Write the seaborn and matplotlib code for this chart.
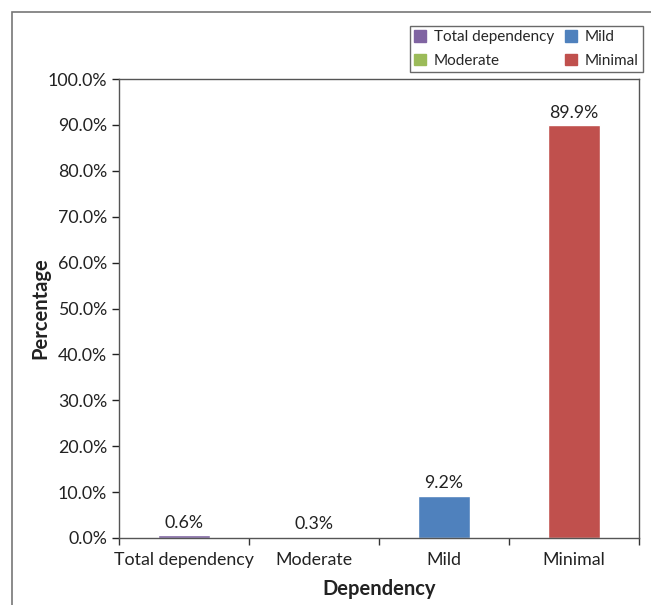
import matplotlib
matplotlib.use('Agg')
import matplotlib.pyplot as plt
import matplotlib.patches as mpatches
from matplotlib.ticker import PercentFormatter
import seaborn as sns
import pandas as pd

# Data
categories = ['Total dependency', 'Moderate', 'Mild', 'Minimal']
percentages = [0.6, 0.3, 9.2, 89.9]
bar_colors = ['#8064A2', '#9BBB59', '#4F81BD', '#C0504D']

df = pd.DataFrame({'Dependency': categories, 'Percentage': percentages})

sns.set_style('white')
plt.rcParams['font.family'] = ['Lato', 'DejaVu Sans']

fig = plt.figure(figsize=(6.51, 6.05), dpi=100)
ax = fig.add_axes([119 / 651, 67 / 605, 520 / 651, 459 / 605])

sns.barplot(data=df, x='Dependency', y='Percentage', hue='Dependency',
            palette=bar_colors, width=0.4, legend=False, saturation=1, ax=ax)

# value labels
for i, v in enumerate(percentages):
    ax.text(i, v + 1.0, f'{v:.1f}%', ha='center', va='bottom', fontsize=12.8, color='#222222')

ax.set_ylim(0, 100)
ax.set_xlim(-0.5, 3.5)
ax.set_yticks(range(0, 101, 10))
ax.yaxis.set_major_formatter(PercentFormatter(decimals=1))
ax.set_xticks(range(len(categories)))
ax.set_xticklabels(categories)
ax.set_xticks([-0.5, 0.5, 1.5, 2.5, 3.5], minor=True)
ax.tick_params(axis='x', which='major', length=0, labelsize=12.8, pad=10, colors='#222222')
ax.tick_params(axis='x', which='minor', length=5, width=1, direction='out', color='#333333', bottom=True)
ax.tick_params(axis='y', length=5, width=1, direction='out', labelsize=12.8, colors='#222222', left=True)

ax.set_xlabel('Dependency', fontsize=14.5, fontweight='bold', color='#222222', labelpad=8)
ax.set_ylabel('Percentage', fontsize=14.5, fontweight='bold', color='#222222', labelpad=-2)

for side in ['left', 'bottom', 'right', 'top']:
    ax.spines[side].set_color('#555555')
    ax.spines[side].set_linewidth(1)

# legend in two columns
handles = [mpatches.Patch(color=c, label=l) for c, l in zip(bar_colors, categories)]
leg = fig.legend(handles=handles, ncol=2, loc='upper right',
                 bbox_to_anchor=(651 / 651, 587 / 605), bbox_transform=fig.transFigure,
                 fontsize=11, frameon=True, fancybox=False, edgecolor='#444444',
                 handlelength=0.8, handleheight=0.8, columnspacing=0.7,
                 handletextpad=0.5, borderpad=0.3, labelspacing=0.6)
leg.get_frame().set_linewidth(1)

# outer chart frame (cut by image edge on right and bottom)
frame = mpatches.Rectangle((12 / 651, -0.1), 1.0, (593 / 605) + 0.1,
                           transform=fig.transFigure, fill=False,
                           edgecolor='#777777', linewidth=1.2, clip_on=False)
fig.patches.append(frame)

fig.savefig('out.png', dpi=100)
